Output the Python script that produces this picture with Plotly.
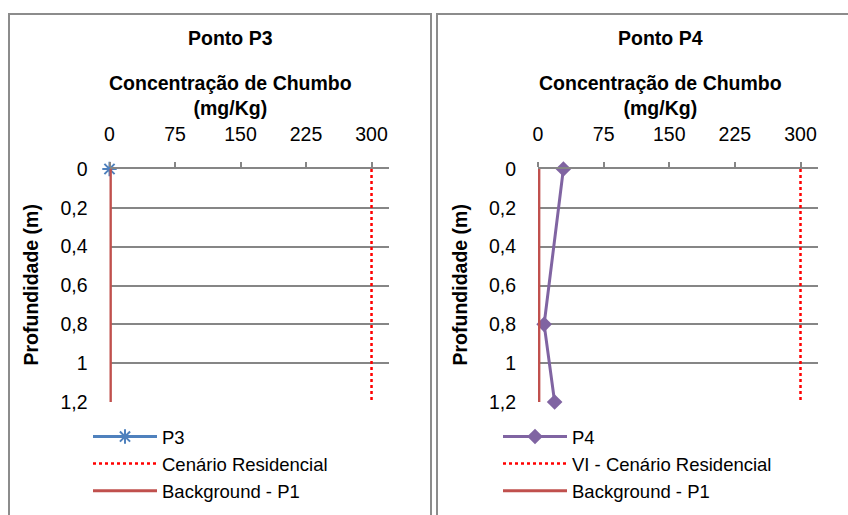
import plotly.graph_objects as go

# ---- data ----
depth_ticks = [0, 0.2, 0.4, 0.6, 0.8, 1.0, 1.2]
depth_tick_labels = ["0", "0,2", "0,4", "0,6", "0,8", "1", "1,2"]
conc_ticks = [0, 75, 150, 225, 300]
conc_tick_labels = ["0", "75", "150", "225", "300"]

p3_depth = [0]
p3_conc = [0]
p4_depth = [0, 0.8, 1.2]
p4_conc = [29, 7, 19]

vi_depth = [0, 1.2]
vi_residencial = [300, 300]
bg_depth = [0, 1.2]
bg_p1 = [1, 1]

W, H = 848, 515
FONT = "Liberation Sans, Arial, sans-serif"
FS = 19.5
LFS = 18.5
GRID = "#868686"

def px(x):
    return x / W

def py(y):
    return 1 - y / H

fig = go.Figure()

# ---- left chart (P3) ----
fig.add_trace(go.Scatter(x=p3_conc, y=p3_depth, name="P3", mode="lines+markers",
                         line=dict(color="#4F81BD", width=3),
                         marker=dict(symbol="asterisk", size=12, color="#4F81BD",
                                     line=dict(color="#4F81BD", width=2)),
                         cliponaxis=False, xaxis="x", yaxis="y", legend="legend"))
fig.add_trace(go.Scatter(x=vi_residencial, y=vi_depth, name="Cenário Residencial", mode="lines",
                         line=dict(color="#FF0000", width=2.5, dash="dot"),
                         xaxis="x", yaxis="y", legend="legend"))
fig.add_trace(go.Scatter(x=bg_p1, y=bg_depth, name="Background - P1", mode="lines",
                         line=dict(color="#C0504D", width=3),
                         cliponaxis=False, xaxis="x", yaxis="y", legend="legend"))

# ---- right chart (P4) ----
fig.add_trace(go.Scatter(x=p4_conc, y=p4_depth, name="P4", mode="lines+markers",
                         line=dict(color="#8064A2", width=3),
                         marker=dict(symbol="diamond", size=12, color="#8064A2"),
                         cliponaxis=False, xaxis="x2", yaxis="y2", legend="legend2"))
fig.add_trace(go.Scatter(x=vi_residencial, y=vi_depth, name="VI - Cenário Residencial", mode="lines",
                         line=dict(color="#FF0000", width=2.5, dash="dot"),
                         xaxis="x2", yaxis="y2", legend="legend2"))
fig.add_trace(go.Scatter(x=bg_p1, y=bg_depth, name="Background - P1", mode="lines",
                         line=dict(color="#C0504D", width=3),
                         cliponaxis=False, xaxis="x2", yaxis="y2", legend="legend2"))

ydom = [py(402), py(169)]
xdom1 = [px(109.5), px(389)]
xdom2 = [px(538), px(818)]

def xaxis_cfg(dom, anchor):
    return dict(domain=dom, anchor=anchor, range=[0, 320], side="top",
                tickvals=conc_ticks, ticktext=conc_tick_labels,
                ticks="outside", ticklen=5, tickcolor=GRID, tickwidth=1.5,
                showline=True, linecolor=GRID, linewidth=1.5,
                showgrid=False, zeroline=False, fixedrange=True,
                ticklabelstandoff=13,
                tickfont=dict(family=FONT, size=FS, color="#000000"))

def xaxis_inner(dom, anchor, over):
    return dict(domain=dom, anchor=anchor, range=[0, 320], side="top", overlaying=over,
                tickvals=conc_ticks, ticks="inside", ticklen=5, tickcolor=GRID, tickwidth=1.5,
                showticklabels=False, showline=False, showgrid=False, zeroline=False)

def yaxis_cfg(dom, anchor):
    return dict(domain=dom, anchor=anchor, range=[1.2, 0],
                tickvals=depth_ticks, ticktext=depth_tick_labels,
                ticks="", showline=False, showgrid=True, gridcolor=GRID, gridwidth=1.5,
                zeroline=False, fixedrange=True, ticklabelstandoff=21,
                tickfont=dict(family=FONT, size=FS, color="#000000"))

legend_common = dict(font=dict(family=FONT, size=LFS, color="#000000"),
                     bgcolor="rgba(0,0,0,0)", borderwidth=0, tracegroupgap=0,
                     xanchor="left", yanchor="top", orientation="v", itemwidth=64)

shapes = [
    dict(type="rect", xref="paper", yref="paper", x0=px(9), x1=px(431), y0=-0.1, y1=py(14),
         line=dict(color="#8C8C8C", width=2), layer="below"),
    dict(type="rect", xref="paper", yref="paper", x0=px(437), x1=px(860), y0=-0.1, y1=py(14),
         line=dict(color="#8C8C8C", width=2), layer="below"),
]

annotations = []
for cx, title in [(230, "Ponto P3"), (660, "Ponto P4")]:
    annotations.append(dict(text="<b>%s</b>" % title, x=px(cx), y=py(38), xref="paper", yref="paper",
                            showarrow=False, xanchor="center", yanchor="middle",
                            font=dict(family=FONT, size=FS, color="#000000")))
    annotations.append(dict(text="<b>Concentração de Chumbo<br>(mg/Kg)</b>", x=px(cx), y=py(95.5),
                            xref="paper", yref="paper", showarrow=False, xanchor="center",
                            yanchor="middle", font=dict(family=FONT, size=FS, color="#000000")))
for cx in [30, 459]:
    annotations.append(dict(text="<b>Profundidade (m)</b>", x=px(cx), y=py(285.5), xref="paper",
                            yref="paper", showarrow=False, textangle=-90, xanchor="center",
                            yanchor="middle", font=dict(family=FONT, size=FS, color="#000000")))

fig.update_layout(
    width=W, height=H,
    margin=dict(l=0, r=0, t=0, b=0, autoexpand=False),
    paper_bgcolor="white", plot_bgcolor="rgba(0,0,0,0)",
    font=dict(family=FONT, size=FS, color="#000000"),
    xaxis=xaxis_cfg(xdom1, "y"),
    yaxis=yaxis_cfg(ydom, "x"),
    xaxis2=xaxis_cfg(xdom2, "y2"),
    yaxis2=yaxis_cfg(ydom, "x2"),
    xaxis3=xaxis_inner(xdom1, "y", "x"),
    xaxis4=xaxis_inner(xdom2, "y2", "x2"),
    legend=dict(x=px(88), y=py(418), **legend_common),
    legend2=dict(x=px(498), y=py(418), **legend_common),
    shapes=shapes,
    annotations=annotations,
    showlegend=True,
)

fig.write_html("out.html", config={"displayModeBar": False},
               post_script="document.body.style.margin='0px';document.body.style.overflow='hidden';")
